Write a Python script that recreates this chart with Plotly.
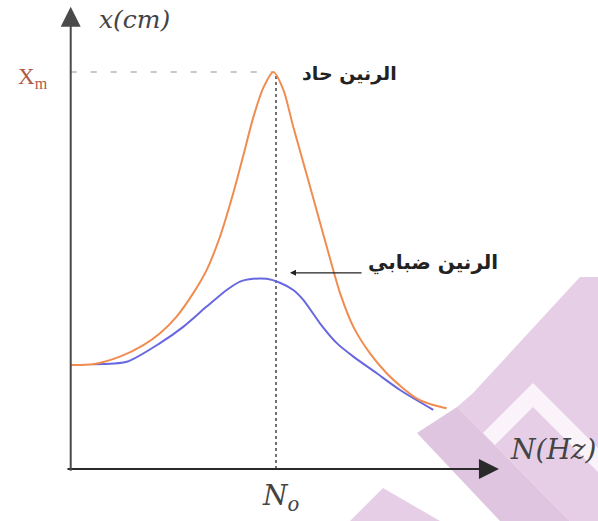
import plotly.graph_objects as go

# ---- data (arbitrary units: N0 = 10, Xm = 10) ----
sharp_x = [0, 1.10, 2.40, 3.54, 4.35, 5.16, 5.97, 6.62, 7.27, 7.92, 8.41, 8.89, 9.38, 9.87,
           10.36, 10.84, 11.66, 12.47, 13.12, 13.77, 14.58, 15.39, 16.20, 16.85, 17.66, 18.31]
sharp_y = [2.62, 2.64, 2.83, 3.12, 3.42, 3.84, 4.43, 5.01, 5.85, 6.95, 7.90, 8.85, 9.60, 10.0,
           9.55, 8.62, 7.11, 5.60, 4.43, 3.58, 2.91, 2.41, 2.03, 1.78, 1.61, 1.53]
blur_x = [1.10, 2.73, 4.35, 5.48, 6.62, 7.60, 8.25, 8.89, 9.55, 10.19, 10.84, 11.33,
          12.14, 12.96, 13.77, 14.91, 16.04, 17.66]
blur_y = [2.64, 2.70, 3.17, 3.58, 4.09, 4.51, 4.72, 4.79, 4.79, 4.69, 4.51, 4.26,
          3.67, 3.17, 2.83, 2.41, 1.99, 1.49]
N0 = 10
XM = 10
label_sharp = "الرنين حاد"
label_blur = "الرنين ضبابي"

W, H = 598, 521
XR = [-3.444, 25.684]
YR = [-1.310, 11.813]

def px(x, y):
    """pixel -> paper coords (for decoration only)"""
    return x / W, 1 - y / H

fig = go.Figure()

# watermark decoration (drawn in order)
PURPLE = "#e6cfe6"
wm = [
    ([(457, 407), (473, 393), (580, 277), (598, 277), (598, 521), (570, 521)], PURPLE),
    ([(482, 434), (533, 383), (598, 448), (598, 472), (533, 407), (494, 446)], "#faf4fa"),
    ([(417, 433), (457, 407), (570, 521), (500, 521)], "#e0c5e0"),
    ([(383, 488), (350, 521), (440, 521)], PURPLE),
]
for poly, col in wm:
    pts = [px(*p) for p in poly]
    path = "M " + " L ".join(f"{a:.4f},{b:.4f}" for a, b in pts) + " Z"
    fig.add_shape(type="path", path=path, xref="paper", yref="paper",
                  fillcolor=col, line_width=0, layer="below")

# reference lines
fig.add_trace(go.Scatter(x=[N0, N0], y=[0, XM - 0.1], mode="lines",
                         line=dict(color="#444444", width=1.5, dash="dot"),
                         hoverinfo="skip", showlegend=False))
fig.add_trace(go.Scatter(x=[0, N0 - 0.2], y=[XM, XM], mode="lines",
                         line=dict(color="#8c8ca8", width=1.2, dash="6px,14px"),
                         hoverinfo="skip", showlegend=False))

# curves
fig.add_trace(go.Scatter(x=blur_x, y=blur_y, mode="lines", line_shape="spline",
                         line=dict(color="#6767e0", width=2, smoothing=0.7), showlegend=False))
fig.add_trace(go.Scatter(x=sharp_x, y=sharp_y, mode="lines", line_shape="spline",
                         line=dict(color="#f08c50", width=2, smoothing=0.7), showlegend=False))

# axes with arrows
fig.add_annotation(x=20.86, y=0, ax=-0.23, ay=0, xref="x", yref="y", axref="x", ayref="y",
                   text="", showarrow=True, arrowhead=2, arrowsize=2, arrowwidth=2,
                   arrowcolor="#2a2a2a")
fig.add_annotation(x=0, y=11.64, ax=0, ay=-0.08, xref="x", yref="y", axref="x", ayref="y",
                   text="", showarrow=True, arrowhead=2, arrowsize=2, arrowwidth=2,
                   arrowcolor="#4a4a4a")

serif_i = "DejaVu Serif"
fig.add_annotation(x=1.28, y=11.31, xref="x", yref="y", text="<i>x(cm)</i>",
                   showarrow=False, xanchor="left", font=dict(family=serif_i, size=25, color="#444444"))
fig.add_annotation(x=-1.84, y=9.85, xref="x", yref="y", text="X<sub>m</sub>",
                   showarrow=False, font=dict(family="Liberation Serif", size=23, color="#b05a46"))
fig.add_annotation(x=21.3, y=0.48, xref="x", yref="y", text="<i>N(Hz)</i>",
                   showarrow=False, xanchor="left", font=dict(family=serif_i, size=28, color="#444444"))
fig.add_annotation(x=10.2, y=-0.72, xref="x", yref="y", text="<i>N<sub>o</sub></i>",
                   showarrow=False, font=dict(family=serif_i, size=28, color="#444444"))

fig.add_annotation(x=13.6, y=9.95, xref="x", yref="y", text="<b>" + label_sharp + "</b>",
                   showarrow=False, font=dict(family="DejaVu Sans", size=19, color="#222222"))
fig.add_annotation(x=17.65, y=5.21, xref="x", yref="y", text="<b>" + label_blur + "</b>",
                   showarrow=False, font=dict(family="DejaVu Sans", size=20, color="#222222"))
fig.add_annotation(x=10.68, y=4.94, ax=14.24, ay=4.94, xref="x", yref="y", axref="x", ayref="y",
                   text="", showarrow=True, arrowhead=2, arrowsize=1, arrowwidth=1.2,
                   arrowcolor="#222222")

fig.update_xaxes(range=XR, visible=False)
fig.update_yaxes(range=YR, visible=False)
fig.update_layout(width=W, height=H, margin=dict(l=0, r=0, t=0, b=0),
                  plot_bgcolor="rgba(0,0,0,0)", paper_bgcolor="white", showlegend=False)

fig.write_html("out.html", config={"displayModeBar": False},
               post_script="document.body.style.margin='0';document.body.style.overflow='hidden';")
